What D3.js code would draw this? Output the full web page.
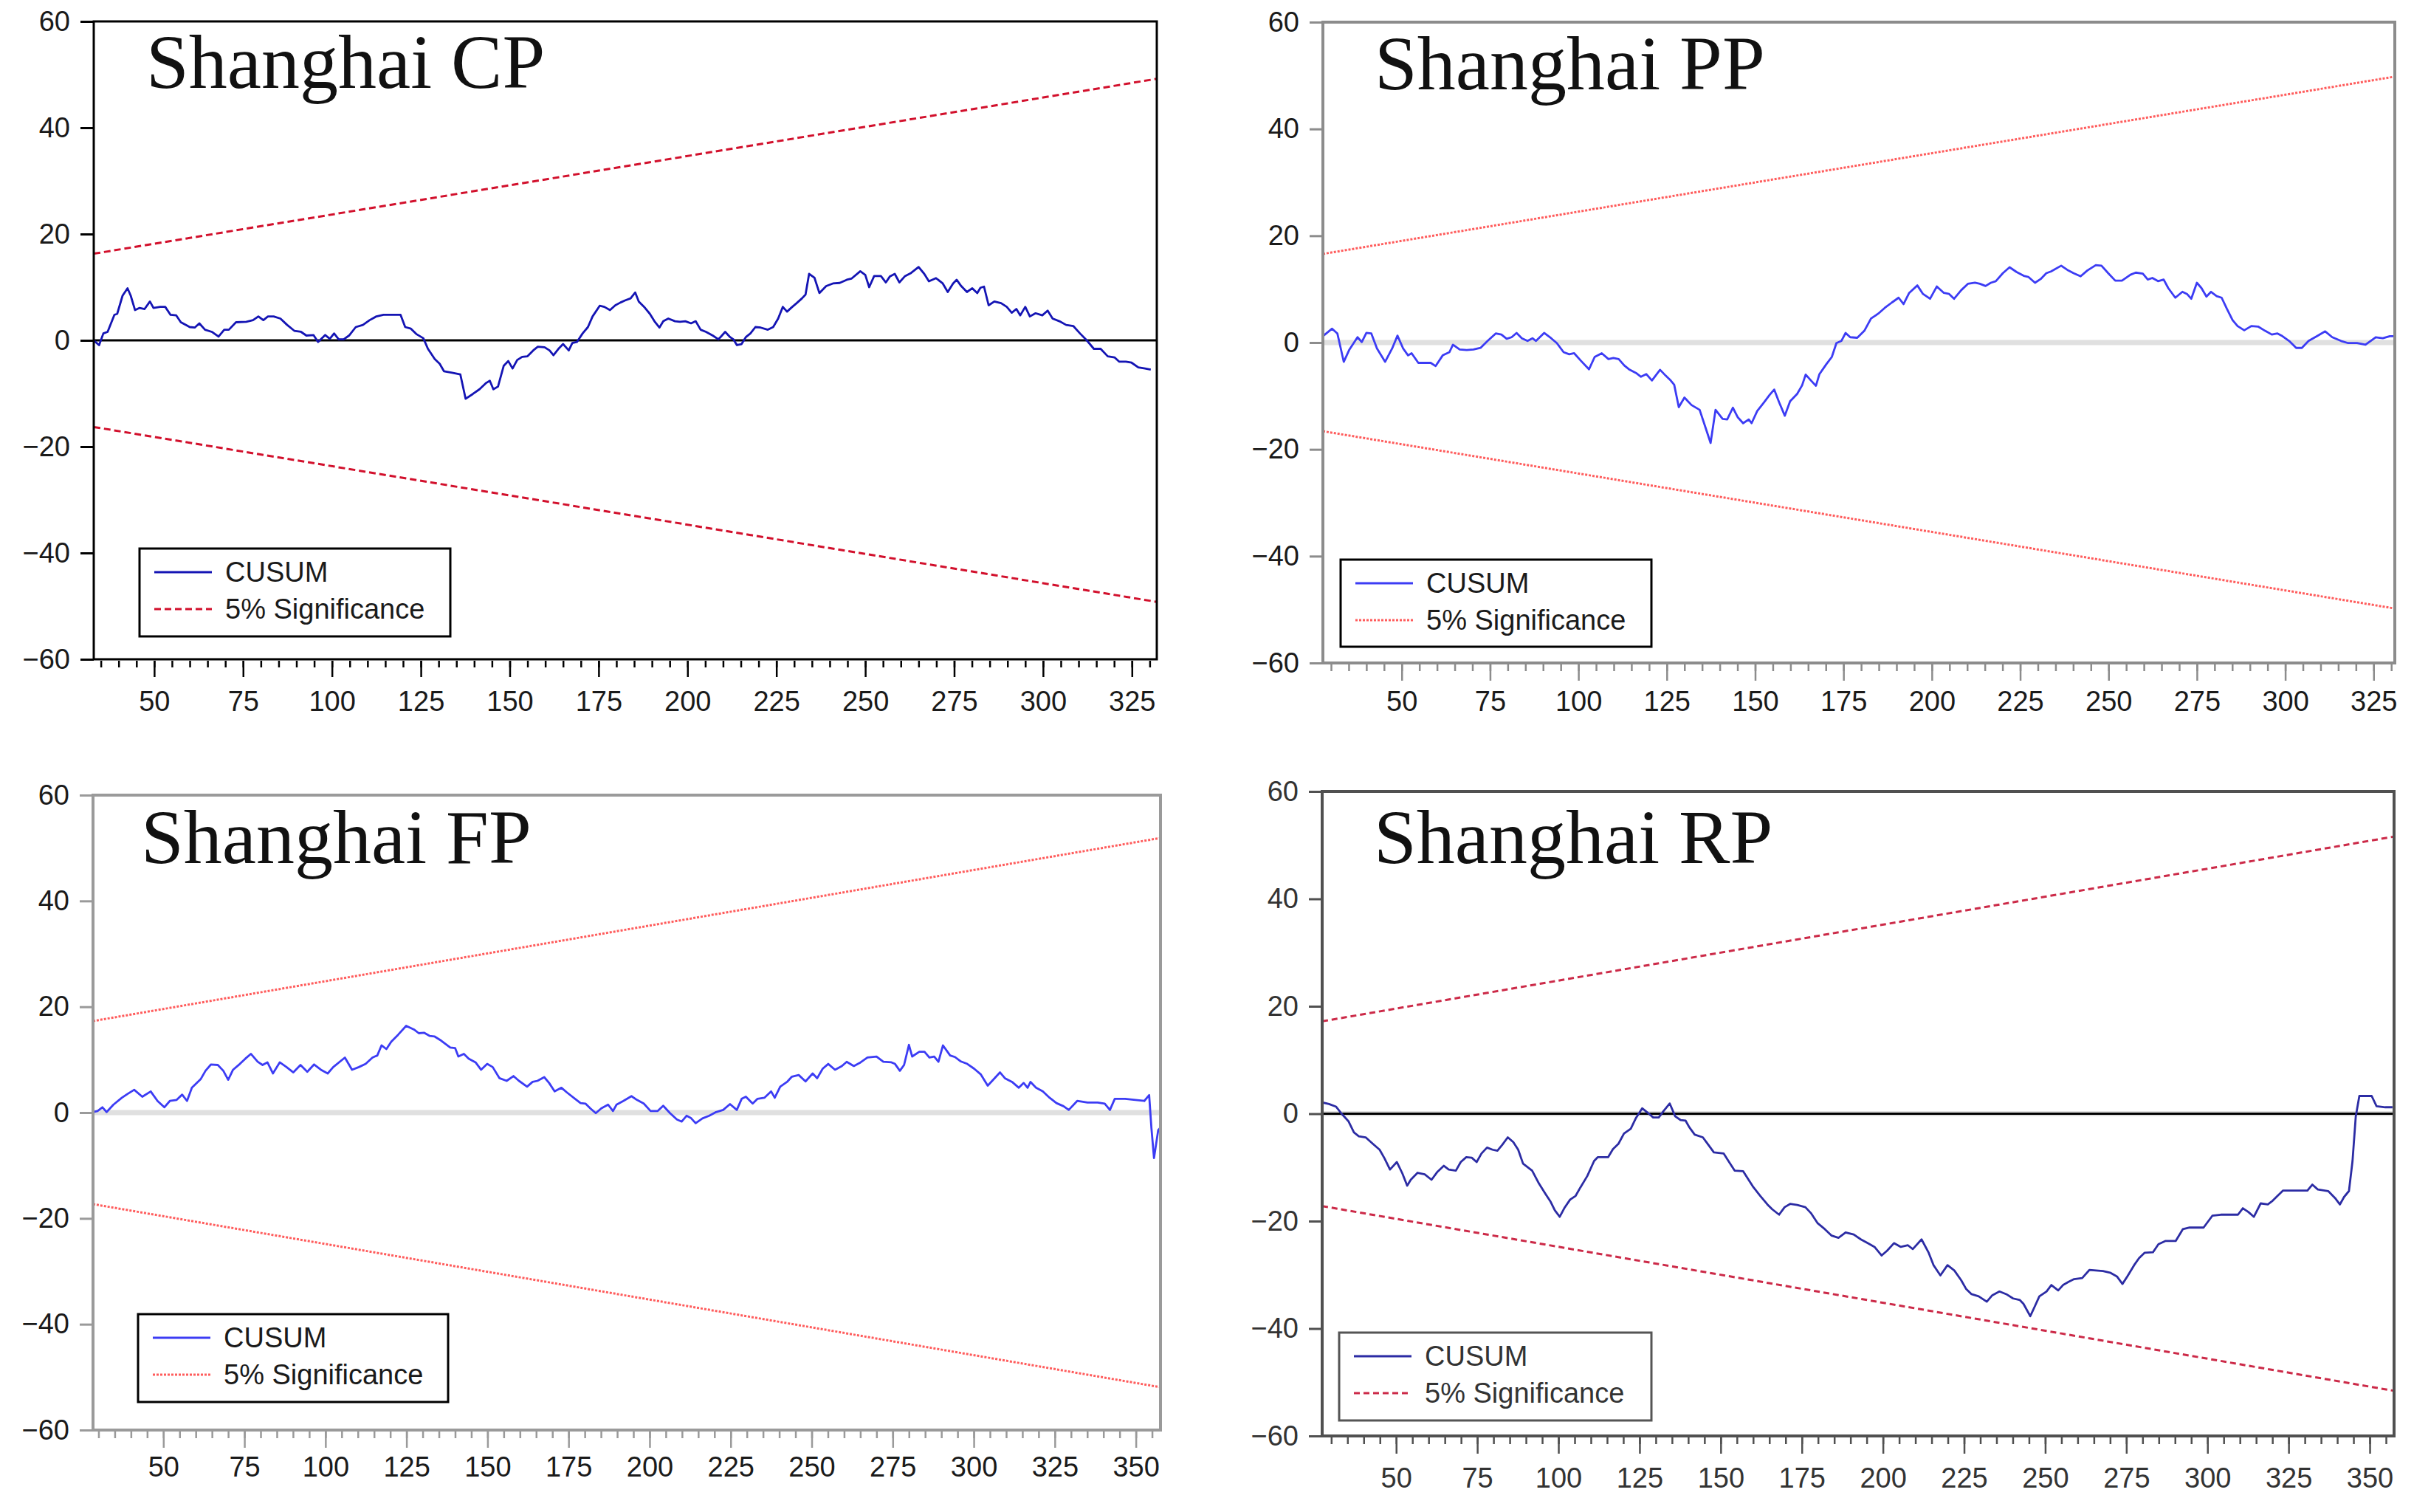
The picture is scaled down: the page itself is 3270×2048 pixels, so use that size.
<!DOCTYPE html>
<html>
<head>
<meta charset="utf-8">
<script src="https://cdn.jsdelivr.net/npm/d3@7"></script>
<style>
  body { margin: 0; background: #fff; }
  svg { display: block; }
</style>
</head>
<body>
<svg id="chart" width="3270" height="2048"></svg>
<script>
var cpCusum = [[33,0],[34.5,-0.9],[35.7,1.3],[36.9,1.6],[38.8,4.8],[39.6,5.0],[41.1,8.4],[42.5,9.8],[43.4,8.4],[44.6,5.7],[45.9,6.1],[47.3,5.9],[48.8,7.3],[49.8,6.1],[51.7,6.3],[53.1,6.3],[54.6,4.8],[56.2,4.7],[57.5,3.4],[60,2.5],[61.4,2.4],[62.7,3.2],[64.3,2.0],[66.2,1.6],[68.1,0.7],[69.7,2.0],[71,2.0],[73,3.4],[75.9,3.5],[77.8,3.8],[79.3,4.5],[80.7,3.8],[82,4.5],[83.6,4.5],[85.5,4.1],[87.4,2.9],[89.4,1.8],[91.3,1.6],[92.8,0.9],[94.8,1.0],[96.1,-0.3],[98.1,1.0],[99.4,0.3],[100.6,1.3],[101.9,0.2],[103.3,0.2],[104.8,0.9],[106.7,2.5],[108.7,2.9],[110.6,3.8],[112.5,4.5],[114.5,4.8],[117.4,4.8],[119.3,4.8],[120.6,2.5],[122.2,2.2],[123.7,1.2],[125.7,0.4],[127,-1.6],[128.9,-3.5],[130.3,-4.4],[131.5,-5.8],[133.8,-6.1],[136.1,-6.4],[137.6,-11.0],[139.6,-10.1],[141.5,-9.2],[143.4,-8.0],[144.4,-7.6],[145.4,-9.2],[146.7,-8.7],[148.3,-4.8],[149.6,-3.9],[150.8,-5.3],[152.1,-3.7],[153.5,-3.1],[155,-3.0],[156.6,-1.9],[157.9,-1.2],[159.8,-1.3],[161.2,-1.9],[162.3,-2.8],[163.7,-1.6],[165,-0.7],[166.6,-1.9],[167.6,-0.5],[168.9,-0.3],[170.5,1.3],[172,2.5],[173.3,4.5],[175.3,6.5],[176.6,6.3],[178.2,5.7],[179.7,6.6],[181.1,7.1],[182.4,7.5],[184,7.9],[185.3,9.0],[186.3,7.3],[187.8,6.3],[189.4,5.0],[190.7,3.6],[192.1,2.4],[193.2,3.6],[194.6,4.1],[196.5,3.6],[197.9,3.5],[199.4,3.6],[201,3.2],[202.3,3.6],[203.7,2.0],[205.2,1.6],[207.1,0.9],[208.7,0.2],[209.4,0.7],[210.6,1.6],[212,0.6],[212.9,0.2],[213.9,-0.9],[215.2,-0.7],[216.4,0.6],[217.7,1.3],[219.1,2.5],[220.6,2.4],[222.6,2.0],[224.1,2.5],[225.5,4.1],[226.8,6.3],[228,5.4],[229.3,6.2],[230.7,7.0],[232.2,7.9],[233.2,8.6],[234.2,12.5],[235.7,11.8],[237.1,8.9],[239,10.2],[240.9,10.7],[242.8,10.8],[244.8,11.4],[246.1,11.6],[248.6,13.0],[250,12.3],[251.1,10.0],[252.5,12.1],[254.4,12.1],[255.8,10.9],[256.9,12.0],[258.3,12.5],[259.6,10.9],[261.2,12.1],[262.7,12.6],[265,13.8],[266.6,12.5],[267.9,11.1],[269.9,11.7],[271.8,10.7],[273.2,9.1],[274.7,10.7],[275.7,11.4],[277,10.2],[278.6,9.1],[280.1,9.8],[281.5,8.9],[282.4,9.9],[283.4,10.1],[284.7,6.6],[286.3,7.3],[288.2,7.0],[289.8,6.3],[291.2,5.2],[292.5,5.9],[293.6,4.7],[295,6.3],[296.3,4.5],[297.9,5.1],[299.8,4.7],[301.3,5.6],[302.7,4.1],[304.6,3.6],[306.5,2.9],[308.5,2.7],[310.4,1.3],[312.3,0],[314.3,-1.6],[316.2,-1.6],[318.2,-3.0],[320.1,-3.2],[321.4,-4.0],[323.3,-4.0],[324.9,-4.2],[326.8,-5.1],[328.7,-5.3],[330.3,-5.5]];

var ppCusum = [[27.7,1.2],[30.3,2.6],[31.8,1.7],[33.6,-3.6],[35.2,-1.3],[37.5,1.0],[38.7,0.1],[40,1.8],[41.4,1.7],[43,-1.1],[45.3,-3.6],[47.3,-1.1],[48.8,1.3],[50.4,-1.1],[51.8,-2.4],[52.8,-2.0],[54.7,-3.8],[56.7,-3.8],[58.2,-3.8],[59.6,-4.4],[61.6,-2.4],[63.5,-1.8],[64.5,-0.4],[66.4,-1.3],[68.4,-1.4],[70.3,-1.3],[72.3,-1.0],[74.3,0.3],[76.6,1.7],[78.2,1.5],[79.7,0.7],[81.1,1.0],[82.5,1.8],[84,0.8],[85.6,0.3],[87,0.8],[88,0.3],[90.3,1.8],[92.3,0.8],[93.9,-0.1],[95.8,-1.8],[97.4,-2.2],[98.8,-2.0],[100.7,-3.4],[103,-5.0],[104.6,-2.7],[106.6,-2.0],[108.5,-3.1],[109.9,-2.9],[111.4,-3.1],[113,-4.3],[114.3,-5.0],[116.3,-5.7],[117.7,-6.4],[119.2,-5.9],[120.8,-7.1],[123.1,-5.1],[124.7,-6.2],[126.1,-7.1],[127.1,-7.9],[128.4,-12.1],[130,-10.3],[132,-11.7],[134.3,-12.6],[135.9,-15.8],[137.4,-18.8],[138.8,-12.6],[140.8,-14.3],[142.1,-14.4],[143.7,-12.2],[145.1,-14.0],[146.6,-15.1],[148.2,-14.4],[149,-15.1],[150.6,-12.8],[152.5,-11.2],[154.1,-9.8],[155.4,-8.8],[156.8,-11.2],[158.4,-13.7],[159.9,-11.0],[161.9,-9.6],[163.3,-8.0],[164.3,-6.0],[165.8,-7.1],[167.2,-8.1],[168.2,-5.9],[170.1,-4.1],[171.7,-2.7],[173,-0.1],[174.4,0.3],[175.6,1.8],[176.9,1.0],[178.9,0.9],[180.9,2.2],[182.8,4.5],[184.8,5.4],[186.7,6.5],[188.7,7.5],[190.6,8.4],[192,7.2],[193.6,9.3],[195.9,10.7],[197.5,9.1],[199.5,8.2],[201.4,10.5],[203.4,9.3],[204.9,9.1],[206.3,8.2],[208.3,9.8],[210.2,11.0],[212.2,11.2],[213.6,11.0],[215.2,10.6],[216.7,11.2],[218.1,11.5],[220.1,13.0],[222,14.1],[224,13.2],[226,12.5],[227.3,12.3],[229.2,11.2],[230.8,11.9],[232.4,13.0],[233.7,13.3],[236.6,14.4],[238.6,13.5],[240.1,13.0],[242.1,12.4],[244,13.5],[246.4,14.5],[248,14.4],[249.9,13.0],[251.9,11.6],[253.8,11.6],[256.2,12.7],[257.7,13.1],[259.7,12.9],[261.1,11.8],[262.4,12.1],[264,11.5],[265.6,11.8],[266.9,10.2],[268.9,8.4],[270.9,9.5],[272.2,9.1],[273.4,8.2],[275,11.2],[276.3,10.2],[277.7,8.6],[279,9.5],[280.6,8.7],[282,8.4],[283.5,6.3],[285.1,4.2],[286.5,3.1],[288.4,2.3],[290.4,3.1],[292.3,3.0],[294.3,2.2],[296.2,1.5],[297.8,1.7],[299.2,1.2],[301.1,0.3],[303.1,-1.0],[304.7,-1.0],[306.6,0.3],[309,1.2],[311.3,2.1],[313.3,1.0],[315.8,0.3],[317.8,-0.1],[320.3,-0.1],[322.7,-0.4],[325.6,1.0],[327.6,0.8],[329.6,1.2],[330.9,1.2]];

var fpCusum = [[28.3,0.1],[29.7,0.3],[31.2,1.0],[32.5,0.1],[34.6,1.5],[37.2,2.8],[38.9,3.5],[41,4.3],[43.5,3.0],[46.1,4.0],[48.2,2.2],[50.3,1.0],[52,2.2],[54.1,2.4],[55.8,3.4],[57.3,2.2],[58.8,4.7],[61.5,6.3],[63,7.9],[64.7,9.1],[66.8,9.0],[68.5,7.9],[70,6.2],[71.5,8.1],[73.6,9.2],[75.3,10.2],[77,11.1],[79.1,9.6],[80.6,9.0],[82.1,9.5],[83.8,7.4],[85.9,9.5],[88,8.6],[90.1,7.6],[92.3,9.0],[94.4,7.7],[96.5,9.1],[98.6,8.1],[100.7,7.4],[102.4,8.6],[106,10.4],[108.2,8.1],[110.3,8.6],[112.4,9.2],[114.5,10.4],[116,10.8],[117.3,12.7],[118.8,12.0],[120.3,13.4],[122.4,14.7],[124.9,16.4],[127.3,15.7],[128.8,15.0],[130.4,15.1],[132.1,14.5],[133.6,14.4],[135.7,13.6],[138.5,12.3],[140,12.2],[141,10.6],[142.7,11.1],[144.2,10.2],[146.3,9.5],[148,8.1],[149.9,9.2],[151.6,8.6],[153.7,6.5],[155.9,6.0],[158,6.9],[159.7,6.0],[162.2,4.9],[163.9,5.8],[165.4,6.0],[167.5,6.7],[169,5.6],[170.7,4.0],[172.8,4.7],[174.5,3.8],[177,2.6],[178.7,1.8],[180.2,1.7],[181.7,0.8],[183.4,-0.1],[185.1,0.8],[187.2,1.5],[188.7,0.3],[189.8,1.5],[191.9,2.2],[194.4,3.1],[196.1,2.4],[198.2,1.7],[200.3,0.3],[202.5,0.3],[204.2,1.3],[206.3,-0.1],[208.4,-1.3],[209.9,-1.7],[211.4,-0.6],[212.7,-1.0],[214.2,-2.0],[216.3,-1.1],[218.4,-0.6],[220.5,0.1],[222.7,0.5],[224.8,1.6],[226.9,0.5],[228.4,2.6],[229.7,3.0],[231.8,1.7],[233.3,2.6],[235.4,2.8],[237.5,4.0],[238.6,2.8],[240.3,4.9],[242.4,5.8],[243.9,6.8],[246,7.1],[248.1,5.9],[250.3,7.4],[251.7,6.5],[253.4,8.3],[255.1,9.2],[257.2,8.1],[259.3,8.8],[260.8,9.6],[263,8.8],[265.1,9.5],[267.2,10.4],[270,10.6],[272.1,9.6],[274.6,9.5],[275.7,9.2],[277.2,7.9],[278.5,9.0],[280,12.8],[281,10.6],[283.2,11.5],[284.8,11.5],[286.3,10.4],[287.8,10.6],[289.1,9.6],[290.5,12.7],[292.7,10.8],[294.2,10.5],[295.9,9.7],[298,9.2],[300.1,8.3],[302.2,7.2],[304.3,5.1],[306,6.2],[308.1,7.6],[309.6,6.5],[311.8,5.8],[313.9,4.7],[315.4,5.6],[316.6,4.7],[317.5,5.8],[319.2,4.7],[321.3,4.0],[323.4,2.8],[325.5,1.8],[327.7,1.2],[329.3,0.5],[331.9,2.2],[335.1,1.9],[338.2,1.9],[340.4,1.7],[342,0.5],[343.5,2.6],[346.7,2.6],[349.9,2.4],[352.6,2.2],[354.1,3.3],[354.8,-2.9],[355.6,-8.6],[356.9,-3.3],[357.5,-2.9]];

var rpCusum = [[27.2,2.1],[29.3,1.8],[31.5,1.3],[33.2,0],[35.3,-1.4],[37,-3.5],[38.5,-4.2],[40.6,-4.4],[42.8,-5.6],[44.9,-6.7],[46.4,-8.3],[48.1,-10.4],[50.2,-9.0],[51.9,-11.1],[53.4,-13.4],[54.5,-12.3],[56.6,-11.0],[58.8,-11.3],[60.9,-12.3],[62.6,-10.9],[64.7,-9.7],[66.2,-10.4],[68.4,-10.6],[69.9,-9.0],[71.6,-8.1],[73.3,-8.2],[74.8,-9.0],[76.3,-7.4],[78,-6.3],[79.7,-6.7],[81.2,-6.9],[82.7,-5.8],[84.4,-4.4],[86.1,-5.3],[87.6,-6.7],[89.1,-9.3],[91.9,-10.6],[94,-13.0],[96.1,-15.0],[97.6,-16.4],[98.9,-18.0],[100.4,-19.2],[101.8,-17.6],[103.6,-16.0],[105.3,-15.3],[106.8,-13.7],[108.9,-11.6],[111,-8.8],[112.1,-8.1],[115.3,-8.1],[116.8,-6.6],[118.5,-5.6],[120.2,-3.7],[122.3,-2.8],[123.8,-0.9],[125.8,1.0],[127.5,0.2],[129.2,-0.7],[130.9,-0.7],[132.4,0.5],[134.3,1.9],[136,-0.5],[137.7,-1.2],[139.2,-1.3],[140.3,-2.5],[142,-3.9],[144.5,-4.4],[146.2,-5.8],[147.9,-7.2],[150.9,-7.4],[152.6,-9.0],[154.3,-10.6],[156.9,-10.7],[158.6,-12.3],[160.1,-13.7],[162.2,-15.3],[164.4,-16.9],[165.9,-17.8],[168,-18.8],[169.7,-17.4],[171.4,-16.8],[173.6,-17.0],[176.1,-17.4],[177.8,-18.5],[179.9,-20.4],[182.1,-21.5],[184.2,-22.7],[186.3,-23.1],[188.5,-22.1],[191,-22.5],[193.2,-23.4],[195.3,-24.1],[197.4,-24.8],[199.6,-26.4],[201.3,-25.5],[203.4,-24.1],[205.5,-24.8],[207.7,-24.5],[209.2,-25.2],[211.9,-23.4],[214.1,-25.9],[215.6,-28.2],[217.7,-30.1],[219.9,-28.2],[222,-29.2],[224.1,-31.0],[225.6,-32.6],[227.3,-33.6],[229.5,-34.0],[232,-35.0],[233.7,-33.8],[235.9,-33.1],[238,-33.6],[240.1,-34.4],[242.2,-34.7],[243.3,-35.4],[245.4,-37.7],[247,-35.6],[248.2,-34.0],[250.4,-33.1],[251.9,-31.9],[254,-32.9],[255.5,-31.9],[257.2,-31.3],[258.9,-30.8],[261.4,-30.6],[263.6,-29.1],[265.7,-29.2],[267.8,-29.3],[270,-29.6],[272.1,-30.3],[273.8,-31.7],[275.3,-30.3],[277.4,-28.2],[278.9,-26.9],[280.6,-25.9],[283.2,-25.8],[284.9,-24.3],[287,-23.7],[290.2,-23.7],[292.4,-21.5],[294.5,-21.2],[298.8,-21.2],[301.5,-19.0],[304.1,-18.8],[309.4,-18.8],[310.9,-17.6],[312.6,-18.3],[314.3,-19.2],[316.4,-16.7],[318.6,-16.9],[320.1,-16.2],[321.6,-15.3],[323.3,-14.3],[327.6,-14.3],[330.8,-14.3],[332.3,-13.2],[334,-14.1],[337.2,-14.4],[339.3,-15.7],[340.8,-16.9],[342.1,-15.5],[343.6,-14.4],[344.7,-8.8],[345.7,-0.5],[346.8,3.3],[348.9,3.3],[350.6,3.3],[352.1,1.4],[354.8,1.2],[357,1.2]];

// 5% bands: [obs at start, obs at end, half-width at start, half-width at end]
var cpBand = [33, 332, 16.3, 49.2];
var ppBand = [27.7, 331, 16.6, 49.8];
var fpBand = [28.3, 357.6, 17.3, 51.9];
var rpBand = [27.2, 357.5, 17.2, 51.6];

// axis extents (observations)
var cpExtent = [33, 332];
var ppExtent = [27.7, 331];
var fpExtent = [28.3, 357.6];
var rpExtent = [27.2, 357.5];

var titles = ["Shanghai CP", "Shanghai PP", "Shanghai FP", "Shanghai RP"];
var legendLabels = ["CUSUM", "5% Significance"];
var yTicks = [-60, -40, -20, 0, 20, 40, 60];
var xTicksTop = [50, 75, 100, 125, 150, 175, 200, 225, 250, 275, 300, 325];
var xTicksBottom = [50, 75, 100, 125, 150, 175, 200, 225, 250, 275, 300, 325, 350];

// layout + look of each panel
var panels = [
  { cusum: cpCusum, band: cpBand, extent: cpExtent, title: titles[0], xTicks: xTicksTop,
    l: 127, r: 1567, t: 29, b: 893, titleX: 198, titleY: 119, labelY: 963,
    lg: { x: 189, y: 743, w: 421, h: 119 },
    frame: "#000", frameW: 3, axisCol: "#000", textCol: "#1a1a1a", lgCol: "#000",
    blue: "#1414b4", red: "#d2102c", dash: "9,5", zeroGrey: false, zeroBlack: true },
  { cusum: ppCusum, band: ppBand, extent: ppExtent, title: titles[1], xTicks: xTicksTop,
    l: 1792, r: 3244, t: 30, b: 898, titleX: 1862, titleY: 121, labelY: 963,
    lg: { x: 1816, y: 758, w: 421, h: 118 },
    frame: "#8c8c8c", frameW: 4, axisCol: "#8c8c8c", textCol: "#1a1a1a", lgCol: "#000",
    blue: "#3c3cf4", red: "#ff5c5c", dash: "3,2", zeroGrey: true, zeroBlack: false },
  { cusum: fpCusum, band: fpBand, extent: fpExtent, title: titles[2], xTicks: xTicksBottom,
    l: 126, r: 1572, t: 1077, b: 1937, titleX: 191, titleY: 1169, labelY: 2000,
    lg: { x: 187, y: 1780, w: 420, h: 119 },
    frame: "#9a9a9a", frameW: 4, axisCol: "#9a9a9a", textCol: "#1a1a1a", lgCol: "#000",
    blue: "#3c3cf4", red: "#ff5c5c", dash: "3,2", zeroGrey: true, zeroBlack: false },
  { cusum: rpCusum, band: rpBand, extent: rpExtent, title: titles[3], xTicks: xTicksBottom,
    l: 1791, r: 3243, t: 1072, b: 1945, titleX: 1861, titleY: 1169, labelY: 2015,
    lg: { x: 1814, y: 1805, w: 423, h: 119 },
    frame: "#505050", frameW: 4, axisCol: "#505050", textCol: "#333", lgCol: "#555",
    blue: "#2c2ca4", red: "#cc2a48", dash: "8,5", zeroGrey: true, zeroBlack: true }
];

var svg = d3.select('#chart');
svg.append('rect').attr('width', 3270).attr('height', 2048).attr('fill', '#fff');

function fmt(d) {
  return d < 0 ? '\u2212' + Math.abs(d) : String(d);
}

panels.forEach(function (p, i) {
  var x = d3.scaleLinear().domain(p.extent).range([p.l, p.r]);
  var y = d3.scaleLinear().domain([-60, 60]).range([p.b, p.t]);
  var g = svg.append('g');

  g.append('clipPath').attr('id', 'clip' + i)
    .append('rect').attr('x', p.l).attr('y', p.t).attr('width', p.r - p.l).attr('height', p.b - p.t);
  var plot = g.append('g').attr('clip-path', 'url(#clip' + i + ')');

  // zero line
  if (p.zeroGrey) {
    plot.append('line').attr('x1', p.l).attr('x2', p.r).attr('y1', y(0)).attr('y2', y(0))
      .attr('stroke', '#e0e0e0').attr('stroke-width', 7);
  }
  if (p.zeroBlack) {
    plot.append('line').attr('x1', p.l).attr('x2', p.r).attr('y1', y(0)).attr('y2', y(0))
      .attr('stroke', '#000').attr('stroke-width', 3);
  }

  var line = d3.line().x(function (d) { return x(d[0]); }).y(function (d) { return y(d[1]); });

  // 5% significance bands
  var upper = [[p.band[0], p.band[2]], [p.band[1], p.band[3]]];
  var lower = [[p.band[0], -p.band[2]], [p.band[1], -p.band[3]]];
  [upper, lower].forEach(function (b) {
    plot.append('path').datum(b).attr('d', line)
      .attr('fill', 'none').attr('stroke', p.red).attr('stroke-width', 3)
      .attr('stroke-dasharray', p.dash);
  });

  // cusum
  plot.append('path').datum(p.cusum).attr('d', line)
    .attr('fill', 'none').attr('stroke', p.blue).attr('stroke-width', 2.8)
    .attr('stroke-linejoin', 'round');

  // frame
  g.append('rect').attr('x', p.l).attr('y', p.t).attr('width', p.r - p.l).attr('height', p.b - p.t)
    .attr('fill', 'none').attr('stroke', p.frame).attr('stroke-width', p.frameW);

  // y axis
  var yAxis = g.append('g').attr('transform', 'translate(' + p.l + ',0)')
    .call(d3.axisLeft(y).tickValues(yTicks).tickSize(18).tickPadding(14).tickFormat(fmt));
  yAxis.select('.domain').remove();
  yAxis.selectAll('line').attr('stroke', p.axisCol).attr('stroke-width', 3);
  yAxis.selectAll('text').attr('fill', p.textCol)
    .style('font-family', 'Liberation Sans, Arial, sans-serif').style('font-size', '38px');

  // x axis: minor ticks every 5, major every 25
  var minor = d3.range(Math.ceil(p.extent[0] / 5) * 5, p.extent[1], 5);
  var xMinor = g.append('g').attr('transform', 'translate(0,' + (p.b + 2) + ')')
    .call(d3.axisBottom(x).tickValues(minor).tickSize(9).tickFormat(''));
  xMinor.select('.domain').remove();
  xMinor.selectAll('line').attr('stroke', p.axisCol).attr('stroke-width', 2.5);

  var xAxis = g.append('g').attr('transform', 'translate(0,' + (p.b + 2) + ')')
    .call(d3.axisBottom(x).tickValues(p.xTicks).tickSize(22).tickFormat(fmt));
  xAxis.select('.domain').remove();
  xAxis.selectAll('line').attr('stroke', p.axisCol).attr('stroke-width', 2.5);
  xAxis.selectAll('text').attr('fill', p.textCol).attr('y', p.labelY - p.b - 2).attr('dy', 0)
    .style('font-family', 'Liberation Sans, Arial, sans-serif').style('font-size', '38px');

  // title
  g.append('text').attr('x', p.titleX).attr('y', p.titleY).text(p.title)
    .attr('fill', '#111')
    .style('font-family', 'Liberation Serif, Times New Roman, serif').style('font-size', '104px');

  // legend
  var lg = g.append('g').attr('transform', 'translate(' + p.lg.x + ',' + p.lg.y + ')');
  lg.append('rect').attr('width', p.lg.w).attr('height', p.lg.h)
    .attr('fill', '#fff').attr('stroke', p.lgCol).attr('stroke-width', 3);
  var rows = [
    { label: legendLabels[0], col: p.blue, dash: null },
    { label: legendLabels[1], col: p.red, dash: p.dash }
  ];
  rows.forEach(function (row, k) {
    var base = 45 + k * 50;
    lg.append('line').attr('x1', 20).attr('x2', 98).attr('y1', base - 13).attr('y2', base - 13)
      .attr('stroke', row.col).attr('stroke-width', 3)
      .attr('stroke-dasharray', row.dash);
    lg.append('text').attr('x', 116).attr('y', base).text(row.label)
      .attr('fill', p.textCol)
      .style('font-family', 'Liberation Sans, Arial, sans-serif').style('font-size', '38px');
  });
});
</script>
</body>
</html>
